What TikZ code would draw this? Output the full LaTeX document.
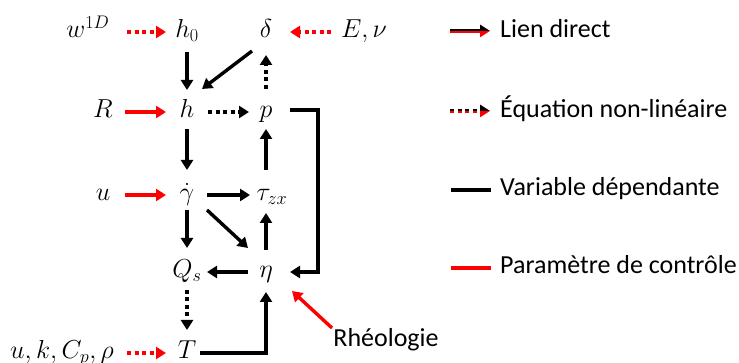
\documentclass[tikz,border=0pt]{standalone}
\usepackage{fix-cm}
\usepackage{fontspec}
\newfontfamily\calib{Carlito}
\usetikzlibrary{arrows.meta}
\begin{document}
\begin{tikzpicture}[x=1pt,y=-1pt,
  var/.style={inner sep=0pt, text height=18pt, text depth=6pt, font=\fontsize{26}{30}\selectfont},
  lab/.style={inner sep=0pt, text height=17pt, text depth=5pt, font=\calib\fontsize{26}{31}\selectfont},
  arr/.style={line width=3.4pt, line join=miter, -{Triangle[length=10pt,width=12pt]}},
  nl/.style={dash pattern=on 4pt off 3.5pt},
  ctl/.style={red}]
\useasboundingbox (0,0) rectangle (739,363);
% nodes
\node[var] (w) at (88,32) {$w^{1D}$};
\node[var] (h0) at (187,32) {$h_0$};
\node[var] (d) at (266,32) {$\delta$};
\node[var] (E) at (364,32) {$E,\nu$};
\node[var] (R) at (103,112) {$R$};
\node[var] (h) at (187,112) {$h$};
\node[var] (p) at (266,112) {$p$};
\node[var] (u) at (103,195) {$u$};
\node[var] (g) at (187,195) {$\dot\gamma$};
\node[var] (tau) at (272,195) {$\tau_{zx}$};
\node[var] (Q) at (187,272) {$Q_s$};
\node[var] (eta) at (266,272) {$\eta$};
\node[var] (T) at (187,353) {$T$};
\node[var] (ukc) at (62,353) {$u,k,C_p,\rho$};
\node[lab] (rh) at (386,340) {Rhéologie};
% connectors
\draw[arr,ctl,nl,shorten <=39pt,shorten >=21pt] (w.center) -- (h0.center);
\draw[arr,ctl,nl,shorten <=33pt,shorten >=24pt] (E.center) -- (d.center);
\draw[arr,shorten <=20pt,shorten >=22pt] (h0.center) -- (h.center);
\draw[arr] ([shift={(-14,19)}]d.center) -- ([shift={(15,-23)}]h.center);
\draw[arr,nl,shorten <=23pt,shorten >=23pt] (p.center) -- (d.center);
\draw[arr,ctl,shorten <=22pt,shorten >=21pt] (R.center) -- (h.center);
\draw[arr,nl,shorten <=21pt,shorten >=17pt] (h.center) -- (p.center);
\draw[arr,shorten <=17pt,shorten >=25pt] (h.center) -- (g.center);
\draw[arr,shorten <=25pt,shorten >=17pt] (p.center |- tau.center) -- (p.center);
\draw[arr] ([shift={(24,-2)}]p.center) -| ([shift={(52,0)}]eta.center) -- ([shift={(24,0)}]eta.center);
\draw[arr,ctl,shorten <=22pt,shorten >=21pt] (u.center) -- (g.center);
\draw[arr,shorten <=20pt,shorten >=22pt] (g.center) -- (tau.center);
\draw[arr] ([shift={(20,15)}]g.center) -- ([shift={(-18,-24)}]eta.center);
\draw[arr,shorten <=15pt,shorten >=24pt] (g.center) -- (Q.center);
\draw[arr,shorten <=22pt,shorten >=18pt] (eta.center) -- (eta.center |- tau.center);
\draw[arr,shorten <=18pt,shorten >=20pt] (eta.center) -- (Q.center);
\draw[arr,nl,shorten <=18pt,shorten >=23pt] (Q.center) -- (T.center);
\draw[arr] ([shift={(13,0)}]T.center) -| ([shift={(0,20)}]eta.center);
\draw[arr,ctl,nl,shorten <=65pt,shorten >=21pt] (ukc.center) -- (T.center);
\draw[arr,ctl] ([shift={(-54,-12)}]rh.center) -- ([shift={(26,19)}]eta.center);
% legend
\draw[arr,red] (450,31) -- (490,31);
\begin{scope}
  \clip (440,18) rectangle (500,31);
  \draw[arr,black] (450,31) -- (490,31);
\end{scope}
\draw[arr,red,nl] (450,111) -- (490,111);
\begin{scope}
  \clip (440,98) rectangle (500,110.5);
  \draw[arr,black,nl] (450,111) -- (490,111);
\end{scope}
\draw[line width=3.4pt] (451,190) -- (491,190);
\draw[line width=3.4pt,red] (451,268) -- (491,268);
\node[lab,anchor=west] (l1) at (500,32) {Lien direct};
\node[lab,anchor=west] (l2) at (500,112) {Équation non-linéaire};
\node[lab,anchor=west] (l3) at (500,190) {Variable dépendante};
\node[lab,anchor=west] (l4) at (500,268) {Paramètre de contrôle};
\end{tikzpicture}
\end{document}
